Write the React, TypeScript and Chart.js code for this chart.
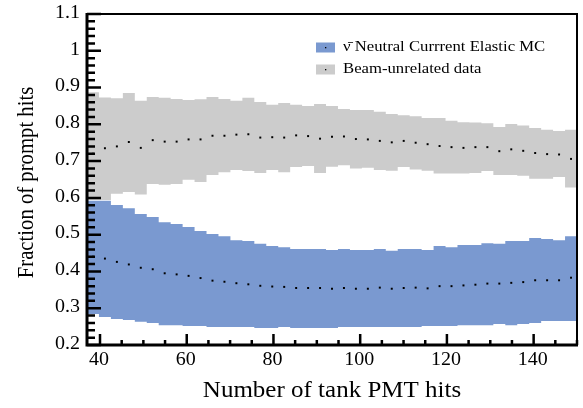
import { useEffect, useRef } from 'react';
import { Chart, registerables } from 'chart.js';

Chart.register(...registerables);

// Histogram binning of the x axis (number of tank PMT hits)
const X_MIN = 37;
const X_MAX = 150;
const N_BINS = 41;
const X_TICKS = [40, 60, 80, 100, 120, 140];
const X_TICK_LABELS = ['40', '60', '80', '100', '120', '140'];
const X_MINOR_STEP = 5;
const Y_MIN = 0.2;
const Y_MAX = 1.1;
const Y_TICKS = [0.2, 0.3, 0.4, 0.5, 0.6, 0.7, 0.8, 0.9, 1.0, 1.1];
const Y_TICK_LABELS = ['0.2', '0.3', '0.4', '0.5', '0.6', '0.7', '0.8', '0.9', '1', '1.1'];
const Y_MINOR_STEP = 0.02;

// Beam-unrelated data (gray band + mean dots)
const BG_HIGH = [0.887, 0.873, 0.871, 0.885, 0.864, 0.874, 0.872, 0.869, 0.866, 0.868, 0.874, 0.869, 0.864, 0.872, 0.861, 0.853, 0.858, 0.853, 0.850, 0.855, 0.850, 0.842, 0.839, 0.839, 0.834, 0.828, 0.825, 0.822, 0.817, 0.817, 0.810, 0.806, 0.805, 0.803, 0.793, 0.801, 0.797, 0.790, 0.785, 0.782, 0.785];
const BG_LOW = [0.594, 0.594, 0.611, 0.616, 0.609, 0.638, 0.636, 0.638, 0.649, 0.643, 0.662, 0.670, 0.676, 0.673, 0.668, 0.676, 0.670, 0.684, 0.687, 0.668, 0.685, 0.689, 0.680, 0.682, 0.676, 0.674, 0.684, 0.677, 0.674, 0.666, 0.666, 0.666, 0.668, 0.673, 0.662, 0.662, 0.660, 0.652, 0.652, 0.657, 0.628];
const BG_MEAN = [0.72, 0.735, 0.740, 0.752, 0.736, 0.757, 0.753, 0.753, 0.759, 0.759, 0.769, 0.769, 0.772, 0.773, 0.764, 0.765, 0.764, 0.770, 0.768, 0.761, 0.766, 0.767, 0.760, 0.759, 0.755, 0.751, 0.755, 0.750, 0.746, 0.741, 0.738, 0.736, 0.738, 0.738, 0.727, 0.732, 0.728, 0.722, 0.719, 0.718, 0.706];

// Anti-neutrino neutral current elastic MC (blue band + mean dots)
const MC_HIGH = [0.592, 0.592, 0.581, 0.572, 0.556, 0.548, 0.534, 0.529, 0.521, 0.510, 0.502, 0.496, 0.485, 0.483, 0.475, 0.469, 0.466, 0.461, 0.461, 0.461, 0.458, 0.461, 0.458, 0.458, 0.461, 0.456, 0.461, 0.461, 0.458, 0.469, 0.466, 0.472, 0.472, 0.477, 0.475, 0.483, 0.483, 0.491, 0.488, 0.485, 0.496];
const MC_LOW = [0.284, 0.276, 0.271, 0.268, 0.263, 0.260, 0.254, 0.254, 0.252, 0.252, 0.249, 0.249, 0.249, 0.249, 0.246, 0.246, 0.249, 0.246, 0.246, 0.246, 0.246, 0.249, 0.249, 0.249, 0.249, 0.249, 0.249, 0.249, 0.252, 0.252, 0.252, 0.254, 0.254, 0.254, 0.257, 0.254, 0.257, 0.260, 0.265, 0.265, 0.265];
const MC_MEAN = [0.44, 0.435, 0.426, 0.419, 0.410, 0.406, 0.395, 0.392, 0.388, 0.382, 0.375, 0.372, 0.368, 0.365, 0.361, 0.359, 0.358, 0.355, 0.355, 0.355, 0.353, 0.355, 0.353, 0.353, 0.356, 0.353, 0.355, 0.356, 0.354, 0.360, 0.360, 0.362, 0.364, 0.367, 0.367, 0.369, 0.371, 0.376, 0.376, 0.376, 0.383];

const LEGEND_LABELS = ['\u03BD\u0304 Neutral Currrent Elastic MC', 'Beam-unrelated data'];
const X_TITLE = 'Number of tank PMT hits';
const Y_TITLE = 'Fraction of prompt hits';

const BLUE = 'rgb(122,153,208)';
const GRAY = 'rgb(204,204,204)';
const FONT = '"Liberation Serif", "Times New Roman", serif';
const SQUASH = 0.9; // the reference text is slightly compressed vertically

const BIN_W = (X_MAX - X_MIN) / N_BINS;
const CENTERS = MC_MEAN.map((_, i) => X_MIN + (i + 0.5) * BIN_W);
const EDGES = Array.from({ length: N_BINS + 1 }, (_, k) => X_MIN + k * BIN_W);

function squashedText(
  ctx: CanvasRenderingContext2D,
  text: string,
  x: number,
  y: number,
  size: number,
  align: CanvasTextAlign,
  baseline: CanvasTextBaseline,
  rotated = false,
) {
  ctx.save();
  ctx.font = `${size}px ${FONT}`;
  ctx.textAlign = align;
  ctx.textBaseline = baseline;
  ctx.translate(x, y);
  if (rotated) {
    ctx.rotate(-Math.PI / 2);
    ctx.scale(SQUASH, 1);
  } else {
    ctx.scale(1, SQUASH);
  }
  ctx.fillText(text, 0, 0);
  ctx.restore();
}

const rootPlugin = {
  id: 'rootStyle',
  afterDatasetsDraw(chart: any) {
    const { ctx, chartArea, scales } = chart;
    const { left, right, top, bottom } = chartArea;
    const xs = scales.x;
    const ys = scales.y;
    ctx.save();
    ctx.strokeStyle = '#000';
    ctx.lineCap = 'butt';
    ctx.lineWidth = 2.5;
    ctx.beginPath();
    for (let v = X_TICKS[0]; v <= X_MAX + 1e-9; v += X_MINOR_STEP) {
      const px = xs.getPixelForValue(v);
      const major = X_TICKS.some((t) => Math.abs(t - v) < 1e-6);
      const len = major ? 11 : 5;
      ctx.moveTo(px, bottom);
      ctx.lineTo(px, bottom - len);
    }
    const nMinor = Math.round((Y_MAX - Y_MIN) / Y_MINOR_STEP);
    for (let k = 0; k <= nMinor; k++) {
      const v = Y_MIN + k * Y_MINOR_STEP;
      const py = ys.getPixelForValue(v);
      const major = Y_TICKS.some((t) => Math.abs(t - v) < 1e-6);
      const len = major ? 14 : 8;
      ctx.moveTo(left, py);
      ctx.lineTo(left + len, py);
    }
    ctx.stroke();
    ctx.lineWidth = 2;
    ctx.beginPath();
    ctx.moveTo(left, top);
    ctx.lineTo(right, top);
    ctx.lineTo(right, bottom);
    ctx.stroke();
    ctx.lineWidth = 3;
    ctx.beginPath();
    ctx.moveTo(left, top - 1);
    ctx.lineTo(left, bottom);
    ctx.lineTo(right + 1, bottom);
    ctx.stroke();
    ctx.restore();
  },
  afterDraw(chart: any) {
    const { ctx, chartArea, scales } = chart;
    const { left, right, top, bottom } = chartArea;
    ctx.save();
    ctx.fillStyle = '#000';
    X_TICKS.forEach((v, i) => {
      squashedText(ctx, X_TICK_LABELS[i], scales.x.getPixelForValue(v) - 1, bottom + 15, 20, 'center', 'middle');
    });
    Y_TICKS.forEach((v, i) => {
      squashedText(ctx, Y_TICK_LABELS[i], left - 7, scales.y.getPixelForValue(v) - 1, 20, 'right', 'middle');
    });
    squashedText(ctx, X_TITLE, (left + right) / 2, 397, 25, 'center', 'alphabetic');
    squashedText(ctx, Y_TITLE, 33, (top + bottom) / 2 + 3, 23, 'center', 'alphabetic', true);
    const colors = [BLUE, GRAY];
    LEGEND_LABELS.forEach((label, i) => {
      const bx = 316;
      const by = 42.5 + i * 22;
      ctx.fillStyle = colors[i];
      ctx.fillRect(bx, by, 19, 10);
      ctx.fillStyle = '#000';
      ctx.fillRect(bx + 9, by + 4.5, 1.3, 1.3);
      squashedText(ctx, label, 343, by + 5, 16.7, 'left', 'middle');
    });
    ctx.restore();
  },
};

export default function App() {
  const ref = useRef<HTMLCanvasElement | null>(null);
  useEffect(() => {
    if (!ref.current) return;
    const dot = (vals: number[]) => ({
      type: 'scatter' as const,
      data: vals.map((v, i) => ({ x: CENTERS[i], y: v })),
      showLine: false,
      pointStyle: 'rect' as const,
      pointRadius: 1.4,
      pointHoverRadius: 1.4,
      pointBackgroundColor: '#000',
      pointBorderWidth: 0,
      borderWidth: 0,
      order: 0,
    });
    const edgeLine = (vals: number[], color: string, order: number, fill: any) => ({
      type: 'line' as const,
      data: EDGES.map((e, k) => ({ x: e, y: vals[Math.min(k, N_BINS - 1)] })),
      stepped: 'before' as const,
      borderColor: 'rgba(0,0,0,0)',
      borderWidth: 0,
      backgroundColor: color,
      pointRadius: 0,
      pointHoverRadius: 0,
      fill,
      order,
    });
    const chart = new Chart(ref.current, {
      type: 'line',
      data: {
        datasets: [
          dot(MC_MEAN),
          dot(BG_MEAN),
          edgeLine(MC_HIGH, BLUE, 2, '+1'),
          edgeLine(MC_LOW, BLUE, 2, false),
          edgeLine(BG_HIGH, GRAY, 3, '+1'),
          edgeLine(BG_LOW, GRAY, 3, false),
        ] as any,
      },
      options: {
        animation: false,
        responsive: false,
        devicePixelRatio: 1,
        layout: { padding: { left: 0, top: 14, right: 6, bottom: 0 } },
        plugins: { legend: { display: false }, tooltip: { enabled: false } },
        scales: {
          x: {
            type: 'linear',
            min: X_MIN,
            max: X_MAX,
            offset: false,
            grid: { display: false, drawTicks: false },
            border: { display: false },
            ticks: { display: false },
            afterBuildTicks: (s: any) => {
              s.ticks = X_TICKS.map((v) => ({ value: v }));
            },
            afterFit: (s: any) => {
              s.height = 63;
            },
          },
          y: {
            type: 'linear',
            min: Y_MIN,
            max: Y_MAX,
            grid: { display: false, drawTicks: false },
            border: { display: false },
            ticks: { display: false },
            afterBuildTicks: (s: any) => {
              s.ticks = Y_TICKS.map((v) => ({ value: v }));
            },
            afterFit: (s: any) => {
              s.width = 87;
            },
          },
        },
      } as any,
      plugins: [rootPlugin],
    });
    return () => chart.destroy();
  }, []);
  return (
    <div style={{ position: 'fixed', left: 0, top: 0, width: 583, height: 408, background: '#fff' }}>
      <canvas ref={ref} width={583} height={408} style={{ display: 'block' }} />
    </div>
  );
}
